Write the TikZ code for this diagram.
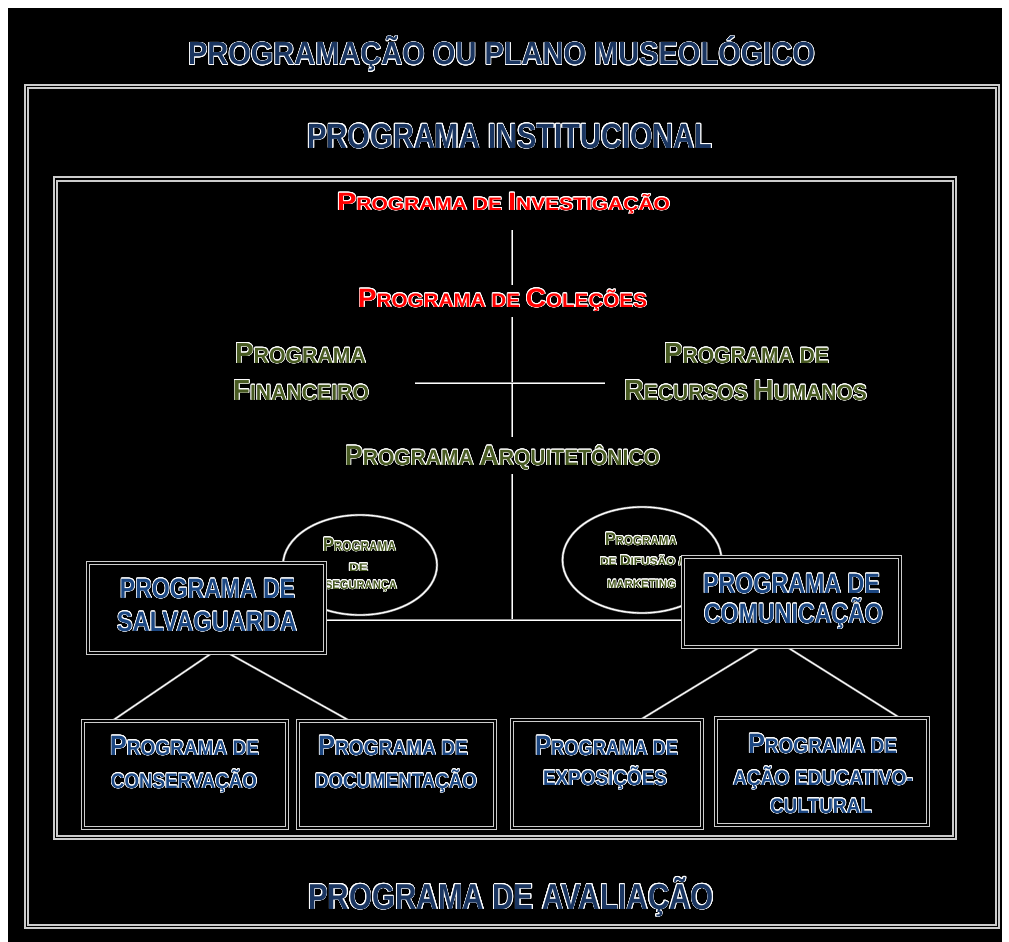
\documentclass[tikz,border=0pt]{standalone}
\usepackage{fontspec}
\setmainfont{Liberation Sans}
\usepackage{graphicx}
\usepackage[copies]{contour}
\contourlength{0.7pt}
\usetikzlibrary{shapes.geometric}
\definecolor{navy}{HTML}{1A3560}
\definecolor{boxblue}{HTML}{1C4782}
\definecolor{progolive}{HTML}{485A22}
\definecolor{progred}{HTML}{FF0000}
\newcommand\fs[1]{\fontsize{#1}{#1}\selectfont}
\newcommand\lbl[3]{\resizebox{#1pt}{\height}{\textcolor{#2}{\contour{white}{\bfseries #3}}}}
\begin{document}
\begin{tikzpicture}[x=1pt,y=-1pt,
  txt/.style={inner sep=0pt, outer sep=0pt, anchor=base},
  frame/.style={draw=white!80!black, double=black, line width=1.8pt, double distance=1.6pt},
  boxframe/.style={draw=white!80!black, double=black, line width=1.5pt, double distance=1.3pt, fill=black},
  conn/.style={draw=white!55!black, double=white, line width=0.6pt, double distance=1pt},
  ell/.style={ellipse, draw=white!55!black, double=white, line width=0.6pt, double distance=1.2pt, inner sep=0pt}]
\useasboundingbox (0,0) rectangle (1009,942);
\fill[white] (0,0) rectangle (1009,942);
\fill[black] (8,8) rectangle (1002,942);
% frames
\draw[frame] (26.5,86.5) rectangle (997.5,926.5);
\draw[frame] (55.5,179) rectangle (954.5,837.5);
% titles
\node[txt] (title) at (501.5,65) {\lbl{627}{navy}{\fs{32}PROGRAMAÇÃO OU PLANO MUSEOLÓGICO}};
\node[txt] (inst) at (510,148) {\lbl{405}{navy}{\fs{35}PROGRAMA INSTITUCIONAL}};
\node[txt] (aval) at (511,909) {\lbl{406}{navy}{\fs{36}PROGRAMA DE AVALIAÇÃO}};
% red
\node[txt] (inv) at (503.5,210) {\lbl{333}{progred}{{\fs{25}P}{\fs{18}ROGRAMA DE }{\fs{25}I}{\fs{18}NVESTIGAÇÃO}}};
\node[txt] (col) at (502.5,307) {\lbl{289}{progred}{{\fs{26.5}P}{\fs{19.5}ROGRAMA DE }{\fs{26.5}C}{\fs{19.5}OLEÇÕES}}};
% olive
\node[txt] (fin1) at (300.5,363) {\lbl{131}{progolive}{{\fs{29}P}{\fs{22}ROGRAMA}}};
\node[txt] (fin2) at (301,400) {\lbl{136}{progolive}{{\fs{29}F}{\fs{22}INANCEIRO}}};
\node[txt] (rh1) at (746.5,363) {\lbl{165}{progolive}{{\fs{29}P}{\fs{22}ROGRAMA DE}}};
\node[txt] (rh2) at (745.5,400) {\lbl{243}{progolive}{{\fs{29}R}{\fs{22}ECURSOS }{\fs{29}H}{\fs{22}UMANOS}}};
\node[txt] (arq) at (502.5,465) {\lbl{315}{progolive}{{\fs{28}P}{\fs{22}ROGRAMA }{\fs{28}A}{\fs{22}RQUITETÔNICO}}};
% connector lines of the cross
\coordinate (v1) at (512,230);
\coordinate (v2) at (512,285);
\coordinate (v3) at (512,317);
\coordinate (v4) at (512,437);
\coordinate (v5) at (512,474);
\coordinate (v6) at (512,620);
\coordinate (h1) at (415,383);
\coordinate (h2) at (605,383);
\draw[conn] (v1) -- (v2);
\draw[conn] (v3) -- (v4);
\draw[conn] (h1) -- (h2);
\draw[conn] (v5) -- (v6);
% ellipses
\node[ell, minimum width=154pt, minimum height=100pt] (ellL) at (360,565) {};
\node[ell, minimum width=159pt, minimum height=106pt] (ellR) at (642,560) {};
\node[txt] (seg1) at (359.5,551) {\lbl{73}{progolive}{{\fs{19.5}P}{\fs{14}ROGRAMA}}};
\node[txt] (seg2) at (358.5,571) {\lbl{19}{progolive}{{\fs{11}DE}}};
\node[txt] (seg3) at (361,589) {\lbl{72}{progolive}{{\fs{12.5}SEGURANÇA}}};
\node[txt] (dif1) at (641,545) {\lbl{72}{progolive}{{\fs{18}P}{\fs{13}ROGRAMA}}};
\node[txt] (dif2) at (641,565) {\lbl{82}{progolive}{{\fs{11}DE }{\fs{14}D}{\fs{11}IFUSÃO /}}};
\node[txt] (dif3) at (641.5,588) {\lbl{69}{progolive}{{\fs{12}MARKETING}}};
% bottom horizontal
\coordinate (hb1) at (325,620);
\coordinate (hb2) at (683,620);
\draw[conn] (hb1) -- (hb2);
% tree connectors
\coordinate (sa) at (212,653);
\coordinate (sb) at (228,653);
\coordinate (ca) at (760,647);
\coordinate (cb) at (787,647);
\coordinate (t1) at (112,721);
\coordinate (t2) at (350,721);
\coordinate (t3) at (640,720);
\coordinate (t4) at (900,718);
\draw[conn] (sa) -- (t1);
\draw[conn] (sb) -- (t2);
\draw[conn] (ca) -- (t3);
\draw[conn] (cb) -- (t4);
% boxes
\draw[boxframe] (88,563) rectangle (325,653);
\draw[boxframe] (683,557) rectangle (900,647);
\draw[boxframe] (83,721) rectangle (287,828);
\draw[boxframe] (298,721) rectangle (495,828);
\draw[boxframe] (512,720) rectangle (702,828);
\draw[boxframe] (716,718) rectangle (928,825);
% box texts
\node[txt] (salv1) at (207.5,598) {\lbl{175}{boxblue}{\fs{28}PROGRAMA DE}};
\node[txt] (salv2) at (207,631) {\lbl{180}{boxblue}{\fs{28}SALVAGUARDA}};
\node[txt] (com1) at (791.5,593) {\lbl{177}{boxblue}{\fs{28}PROGRAMA DE}};
\node[txt] (com2) at (793.5,623) {\lbl{179}{boxblue}{\fs{28}COMUNICAÇÃO}};
\node[txt] (cons1) at (184.5,755) {\lbl{149}{boxblue}{{\fs{28}P}{\fs{21}ROGRAMA DE}}};
\node[txt] (cons2) at (184,788) {\lbl{146}{boxblue}{\fs{21}CONSERVAÇÃO}};
\node[txt] (doc1) at (393,755) {\lbl{150}{boxblue}{{\fs{28}P}{\fs{21}ROGRAMA DE}}};
\node[txt] (doc2) at (396,788) {\lbl{162}{boxblue}{\fs{21}DOCUMENTAÇÃO}};
\node[txt] (exp1) at (606.5,755) {\lbl{143}{boxblue}{{\fs{28}P}{\fs{21}ROGRAMA DE}}};
\node[txt] (exp2) at (605,785) {\lbl{124}{boxblue}{\fs{21}EXPOSIÇÕES}};
\node[txt] (acao1) at (822.5,753) {\lbl{149}{boxblue}{{\fs{28}P}{\fs{21}ROGRAMA DE}}};
\node[txt] (acao2) at (823,785) {\lbl{180}{boxblue}{\fs{21}AÇÃO EDUCATIVO-}};
\node[txt] (acao3) at (821,813) {\lbl{102}{boxblue}{\fs{21}CULTURAL}};
\end{tikzpicture}
\end{document}
